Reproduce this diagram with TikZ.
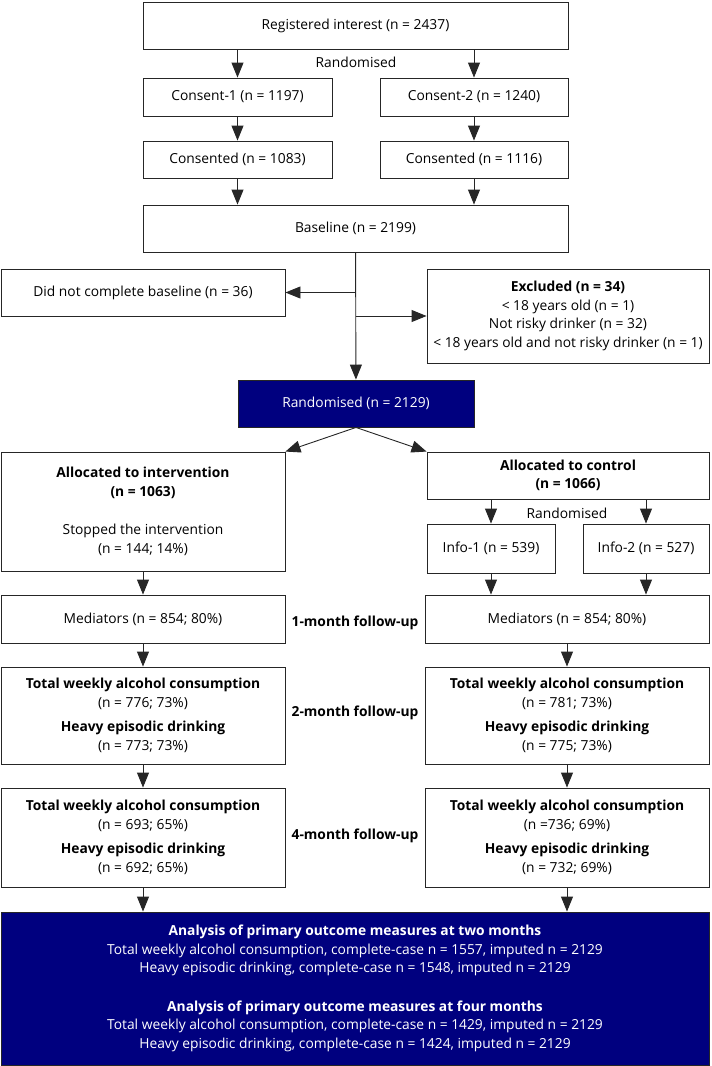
\documentclass[tikz,border=0pt]{standalone}
\usepackage{fontspec}
\setmainfont{Open Sans}
\usetikzlibrary{arrows.meta,positioning}
\definecolor{trialnavy}{HTML}{00007F}
\tikzset{
  box/.style     = {draw=black!85, line width=0.9pt, rectangle, inner sep=0pt,
                    align=center},
  darkbox/.style = {box, fill=trialnavy, text=white},
  flow/.style    = {-{Triangle[length=15pt,width=12pt]}, line width=0.9pt, black!85},
  stage/.style   = {font=\fontsize{13.8}{18.5}\selectfont\bfseries},
}

\begin{document}
\begin{tikzpicture}[x=1pt,y=-1pt,font=\fontsize{13.8}{18.5}\selectfont]
\useasboundingbox (0,0) rectangle (712,1066);
% enrolment
\node[box,minimum width=425,minimum height=47] (reg) at (355.5,25.5) {Registered interest (n = 2437)};
\node at (356,62) {Randomised};
\node[box,minimum width=189,minimum height=38] (con1) at (237.5,97) {Consent-1 (n = 1197)};
\node[box,minimum width=188,minimum height=38] (con2) at (474,97) {Consent-2 (n = 1240)};
\node[box,minimum width=189,minimum height=37] (ok1) at (237.5,159.5) {Consented (n = 1083)};
\node[box,minimum width=188,minimum height=37] (ok2) at (474,159.5) {Consented (n = 1116)};
\node[box,minimum width=425,minimum height=47] (base) at (355.5,228.5) {Baseline (n = 2199)};
\node[box,minimum width=284,minimum height=47] (nobase) at (143,292.5) {Did not complete baseline (n = 36)};
\node[box,minimum width=282,minimum height=94] (excl) at (568,316)
  {\textbf{Excluded (n = 34)}\\ {<} 18 years old (n = 1)\\ Not risky drinker (n = 32)\\
   {<} 18 years old and not risky drinker (n = 1)};
\node[darkbox,minimum width=236,minimum height=47] (rand) at (356,403.5) {Randomised (n = 2129)};

% allocation
\node[box,minimum width=284,minimum height=119] (interv) at (143,511.5)
  {\textbf{Allocated to intervention}\\ \textbf{(n = 1063)}\\[20pt] Stopped the intervention\\ (n = 144; 14\%)};
\node[box,minimum width=282,minimum height=47] (ctrl) at (568,475.5)
  {\textbf{Allocated to control}\\ \textbf{(n = 1066)}};
\node at (567,513) {Randomised};
\node[box,minimum width=128,minimum height=49] (info1) at (491,548.5) {Info-1 (n = 539)};
\node[box,minimum width=126,minimum height=49] (info2) at (646,548.5) {Info-2 (n = 527)};

% follow-up
\node[box,minimum width=284,minimum height=48] (med1) at (143,619) {Mediators (n = 854; 80\%)};
\node[box,minimum width=284,minimum height=48] (med2) at (567,619) {Mediators (n = 854; 80\%)};
\node[stage] at (355,623) {1-month follow-up};
\node[box,minimum width=284,minimum height=97] (two1) at (143,715.5)
  {\textbf{Total weekly alcohol consumption}\\ (n = 776; 73\%)\\[6pt] \textbf{Heavy episodic drinking}\\ (n = 773; 73\%)};
\node[box,minimum width=284,minimum height=97] (two2) at (567,715.5)
  {\textbf{Total weekly alcohol consumption}\\ (n = 781; 73\%)\\[6pt] \textbf{Heavy episodic drinking}\\ (n = 775; 73\%)};
\node[stage] at (355,713) {2-month follow-up};
\node[box,minimum width=284,minimum height=99] (four1) at (143,837.5)
  {\textbf{Total weekly alcohol consumption}\\ (n = 693; 65\%)\\[6pt] \textbf{Heavy episodic drinking}\\ (n = 692; 65\%)};
\node[box,minimum width=284,minimum height=99] (four2) at (567,837.5)
  {\textbf{Total weekly alcohol consumption}\\ (n =736; 69\%)\\[6pt] \textbf{Heavy episodic drinking}\\ (n = 732; 69\%)};
\node[stage] at (355,836) {4-month follow-up};

% analysis
\node[darkbox,minimum width=708,minimum height=153] (final) at (355,988.5)
  {\textbf{Analysis of primary outcome measures at two months}\\
   Total weekly alcohol consumption, complete-case n = 1557, imputed n = 2129\\
   Heavy episodic drinking, complete-case n = 1548, imputed n = 2129\\[20pt]
   \textbf{Analysis of primary outcome measures at four months}\\
   Total weekly alcohol consumption, complete-case n = 1429, imputed n = 2129\\
   Heavy episodic drinking, complete-case n = 1424, imputed n = 2129};

% connectors
\draw[flow] (reg.south -| con1) -- (con1);
\draw[flow] (reg.south -| con2) -- (con2);
\draw[flow] (con1) -- (ok1);
\draw[flow] (con2) -- (ok2);
\draw[flow] (ok1) -- (ok1 |- base.north);
\draw[flow] (ok2) -- (ok2 |- base.north);
\draw[flow] (base) -- (rand);
\draw[flow] (base.south |- nobase) -- (nobase);
\draw[flow] (base.south |- excl.west) -- (excl);
\draw[flow] (rand.south) -- (interv.north east);
\draw[flow] (rand.south) -- (ctrl.north west);
\draw[flow] (ctrl.south -| info1) -- (info1);
\draw[flow] (ctrl.south -| info2) -- (info2);
\draw[flow] (interv) -- (med1);
\draw[flow] (info1) -- (info1 |- med2.north);
\draw[flow] (info2) -- (info2 |- med2.north);
\draw[flow] (med1) -- (two1);
\draw[flow] (med2) -- (two2);
\draw[flow] (two1) -- (four1);
\draw[flow] (two2) -- (four2);
\draw[flow] (four1) -- (four1 |- final.north);
\draw[flow] (four2) -- (four2 |- final.north);
\end{tikzpicture}
\end{document}
